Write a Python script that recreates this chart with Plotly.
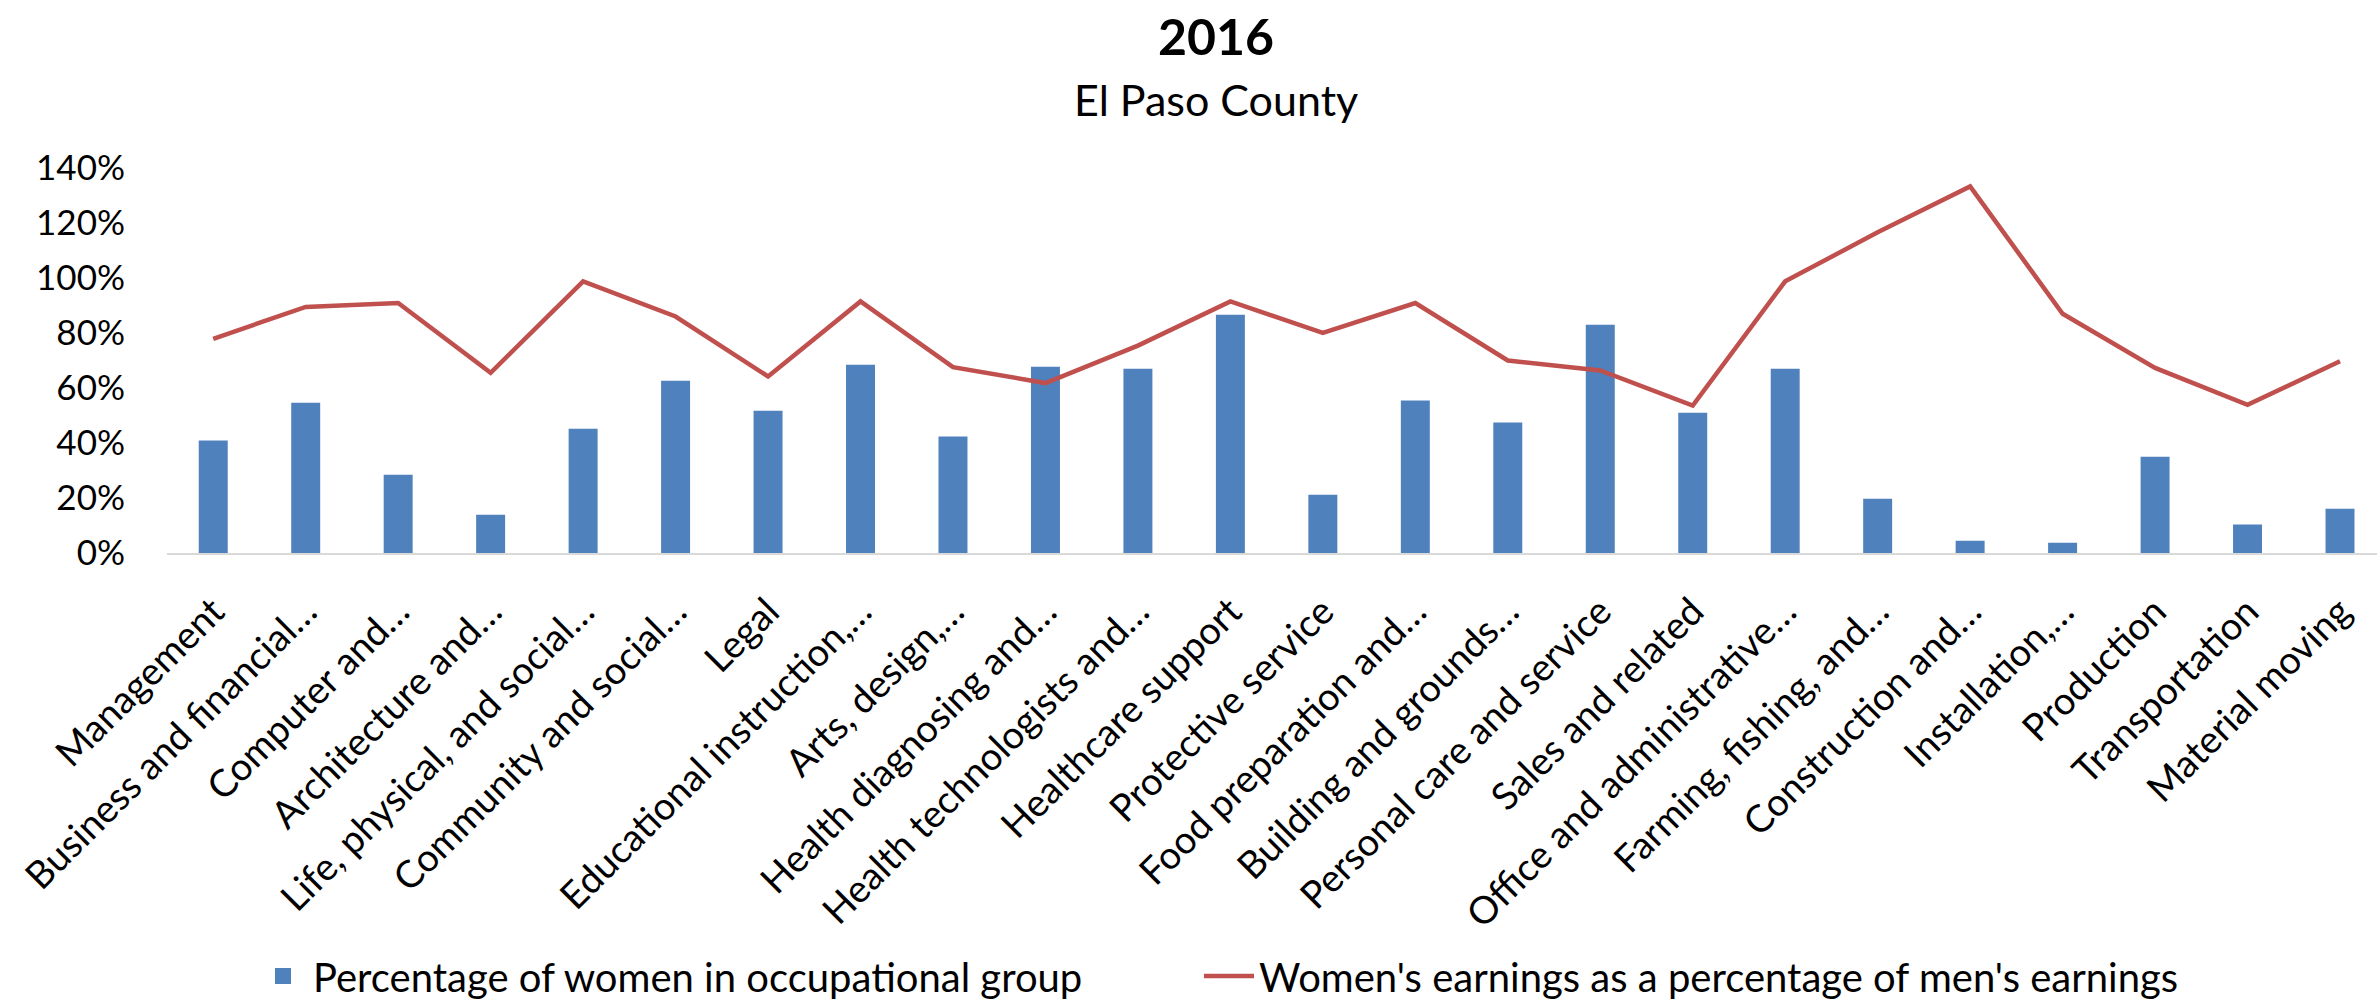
import plotly.graph_objects as go

categories = [
    "Management", "Business and financial…", "Computer and…", "Architecture and…",
    "Life, physical, and social…", "Community and social…", "Legal",
    "Educational instruction,…", "Arts, design,…", "Health diagnosing and…",
    "Health technologists and…", "Healthcare support", "Protective service",
    "Food preparation and…", "Building and grounds…", "Personal care and service",
    "Sales and related", "Office and administrative…", "Farming, fishing, and…",
    "Construction and…", "Installation,…", "Production", "Transportation",
    "Material moving",
]

pct_women = [40.2, 53.9, 27.7, 13.2, 44.5, 61.9, 51.0, 67.7, 41.6, 67.0,
             66.3, 85.9, 20.5, 54.7, 46.7, 82.3, 50.3, 66.3, 19.0, 3.7,
             3.0, 34.3, 9.6, 15.4]

earnings_ratio = [77.9, 89.5, 90.9, 65.5, 98.8, 86.0, 64.2, 91.5, 67.6, 61.8,
                  75.4, 91.5, 80.0, 90.9, 70.0, 66.4, 53.6, 98.8, 116.6, 133.3,
                  87.0, 67.3, 53.9, 69.7]

y_ticks = [0, 20, 40, 60, 80, 100, 120, 140]
y_tick_labels = ["0%", "20%", "40%", "60%", "80%", "100%", "120%", "140%"]

FONT = "Lato, 'Open Sans', sans-serif"

W, H = 2377, 1003
M_L, M_R, M_T, M_B = 167, 0, 168, 450
PLOT_W = W - M_L - M_R
PLOT_H = H - M_T - M_B
BOTTOM = H - M_B

fig = go.Figure()
fig.add_trace(go.Bar(
    x=categories, y=pct_women,
    name="Percentage of women in occupational group",
    marker=dict(color="#4F81BD", line=dict(width=4, color="#4F81BD")),
    legend="legend",
))
fig.add_trace(go.Scatter(
    x=categories, y=earnings_ratio, mode="lines",
    name="Women's earnings as a percentage of men's earnings",
    line=dict(color="#C0504D", width=4.5),
    legend="legend2",
))

legend_common = dict(
    orientation="h", xanchor="left",
    yref="container", y=0.027, yanchor="middle",
    font=dict(size=40), itemwidth=50, bgcolor="rgba(0,0,0,0)",
)

fig.update_layout(
    width=W, height=H,
    paper_bgcolor="white", plot_bgcolor="white",
    font=dict(family=FONT, size=38, color="black"),
    margin=dict(l=M_L, r=M_R, t=M_T, b=M_B),
    bargap=0.73,
    showlegend=True,
    legend=dict(x=(253 - M_L) / PLOT_W, **legend_common),
    legend2=dict(x=(1199 - M_L) / PLOT_W, **legend_common),
    xaxis=dict(
        tickangle=-45, showgrid=False, showline=True, linecolor="#d9d9d9",
        linewidth=2, ticks="", tickfont=dict(size=38),
        range=[-0.5, 23.4], automargin=False, ticklabelstandoff=19,
    ),
    yaxis=dict(
        range=[0, 140], tickvals=y_ticks, ticktext=y_tick_labels,
        showgrid=False, zeroline=False, showline=False, ticks="",
        ticklabelstandoff=41, tickfont=dict(size=35), automargin=False,
    ),
    annotations=[
        dict(text="<b>2016</b>", xref="paper", yref="paper", x=(1216 - M_L) / PLOT_W,
             y=(BOTTOM - 36) / PLOT_H, xanchor="center", yanchor="middle",
             showarrow=False, font=dict(size=50, family=FONT)),
        dict(text="El Paso County", xref="paper", yref="paper", x=(1216 - M_L) / PLOT_W,
             y=(BOTTOM - 99) / PLOT_H, xanchor="center", yanchor="middle",
             showarrow=False, font=dict(size=43, family=FONT)),
    ],
)

fig.write_html("out.html", config={"displayModeBar": False},
               post_script="document.body.style.margin='0';")
